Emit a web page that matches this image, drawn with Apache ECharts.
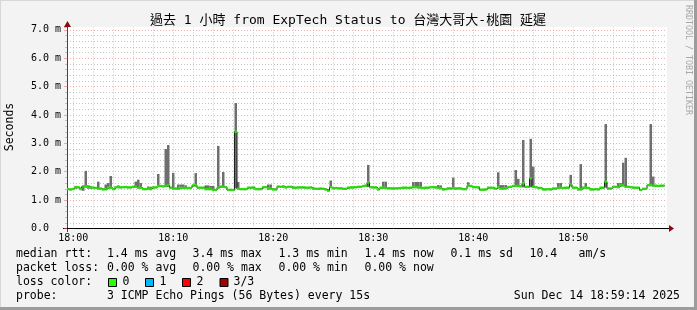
<!DOCTYPE html>
<html><head><meta charset="utf-8">
<script src="https://cdn.jsdelivr.net/npm/echarts@6/dist/echarts.min.js"></script>
<style>html,body{margin:0;padding:0;background:#f3f3f3}#c{width:697px;height:310px}</style>
</head><body><div id="c"></div>
<script>
// ---- data ----
const startTime = '17:59:30';
const stepSeconds = 15;
const pointCount = 240;
const xTickLabels = ['18:00','18:10','18:20','18:30','18:40','18:50'];
const yTickLabels = ['0.0','1.0 m','2.0 m','3.0 m','4.0 m','5.0 m','6.0 m','7.0 m'];

// median rtt (ms)
const median = [
1.39,1.38,1.39,1.46,1.46,1.39,1.49,1.49,1.48,1.44,
1.44,1.43,1.41,1.41,1.38,1.38,1.44,1.44,1.39,1.46,
1.46,1.45,1.46,1.46,1.45,1.45,1.47,1.47,1.44,1.44,
1.39,1.39,1.40,1.39,1.45,1.45,1.50,1.50,1.49,1.50,
1.52,1.44,1.41,1.41,1.40,1.43,1.43,1.43,1.43,1.43,
1.52,1.52,1.44,1.44,1.44,1.39,1.39,1.39,1.36,1.36,
1.44,1.48,1.47,1.46,1.36,1.36,1.36,3.41,1.40,1.39,
1.39,1.39,1.44,1.44,1.44,1.39,1.39,1.39,1.46,1.46,
1.42,1.41,1.38,1.38,1.48,1.47,1.48,1.45,1.47,1.47,
1.44,1.44,1.45,1.45,1.45,1.44,1.44,1.45,1.41,1.40,
1.40,1.41,1.40,1.38,1.33,1.46,1.42,1.43,1.42,1.42,
1.40,1.40,1.44,1.45,1.45,1.46,1.47,1.47,1.50,1.51,
1.62,1.46,1.45,1.45,1.38,1.44,1.44,1.43,1.42,1.42,
1.41,1.42,1.42,1.43,1.44,1.44,1.43,1.44,1.46,1.46,
1.45,1.44,1.43,1.44,1.44,1.46,1.46,1.45,1.43,1.42,
1.38,1.39,1.42,1.41,1.42,1.41,1.42,1.41,1.39,1.39,
1.51,1.50,1.46,1.46,1.45,1.37,1.37,1.38,1.44,1.44,
1.43,1.40,1.46,1.41,1.41,1.42,1.46,1.47,1.50,1.50,
1.50,1.49,1.59,1.47,1.47,1.77,1.47,1.46,1.43,1.43,
1.38,1.38,1.39,1.38,1.41,1.41,1.44,1.44,1.43,1.44,
1.44,1.55,1.44,1.44,1.38,1.38,1.44,1.44,1.43,1.38,
1.38,1.39,1.38,1.44,1.44,1.65,1.41,1.41,1.47,1.47,
1.46,1.52,1.52,1.47,1.47,1.46,1.44,1.44,1.44,1.36,
1.40,1.40,1.53,1.53,1.51,1.51,1.50,1.51,1.51,null
];
// highest ping of each step (ms)
const pingMax = [
1.42,1.41,1.43,1.50,1.49,1.44,1.52,2.03,1.52,1.48,
1.47,1.46,1.65,1.44,1.41,1.55,1.60,1.85,1.42,1.49,
1.52,1.48,1.49,1.50,1.48,1.48,1.50,1.65,1.72,1.60,
1.43,1.42,1.48,1.47,1.48,1.48,1.92,1.53,1.52,2.80,
2.94,1.47,1.96,1.44,1.55,1.55,1.55,1.52,1.46,1.46,
1.55,1.95,1.47,1.47,1.47,1.52,1.52,1.50,1.50,1.39,
2.91,1.51,1.99,1.49,1.39,1.40,1.39,4.42,1.64,1.42,
1.42,1.42,1.47,1.47,1.48,1.42,1.42,1.43,1.49,1.49,
1.55,1.55,1.41,1.41,1.51,1.50,1.52,1.48,1.50,1.50,
1.48,1.47,1.48,1.48,1.48,1.47,1.47,1.48,1.44,1.43,
1.43,1.44,1.43,1.41,1.37,1.69,1.45,1.46,1.45,1.45,
1.43,1.43,1.47,1.48,1.48,1.49,1.50,1.50,1.53,1.54,
2.24,1.49,1.48,1.48,1.41,1.47,1.65,1.65,1.45,1.45,
1.44,1.45,1.45,1.46,1.47,1.47,1.46,1.47,1.64,1.64,
1.64,1.64,1.46,1.47,1.47,1.49,1.49,1.48,1.53,1.52,
1.41,1.42,1.45,1.44,1.79,1.44,1.45,1.44,1.42,1.42,
1.63,1.53,1.49,1.49,1.48,1.40,1.40,1.41,1.47,1.47,
1.46,1.43,1.98,1.53,1.53,1.53,1.49,1.50,1.53,2.06,
1.75,1.52,3.12,1.50,1.50,3.16,2.18,1.49,1.46,1.46,
1.41,1.41,1.42,1.41,1.44,1.44,1.60,1.60,1.46,1.47,
1.47,1.89,1.47,1.47,1.41,2.27,1.47,1.60,1.46,1.41,
1.41,1.42,1.41,1.47,1.47,3.68,1.44,1.44,1.50,1.50,
1.60,1.60,2.32,2.49,1.50,1.49,1.47,1.47,1.47,1.39,
1.43,1.43,1.56,3.68,1.83,1.54,1.53,1.54,1.54,null
];
// lowest ping of each step (ms)
const pingMin = [
1.35,1.34,1.36,1.40,1.41,1.35,1.33,1.44,1.40,1.39,
1.40,1.39,1.37,1.37,1.34,1.35,1.40,1.40,1.35,1.42,
1.42,1.41,1.42,1.42,1.41,1.41,1.43,1.43,1.40,1.40,
1.35,1.35,1.36,1.35,1.41,1.41,1.46,1.46,1.45,1.46,
1.46,1.40,1.37,1.37,1.36,1.39,1.39,1.39,1.39,1.39,
1.47,1.47,1.40,1.40,1.40,1.35,1.35,1.35,1.32,1.32,
1.40,1.44,1.43,1.42,1.32,1.32,1.32,1.41,1.36,1.35,
1.35,1.35,1.40,1.40,1.40,1.35,1.35,1.35,1.42,1.42,
1.36,1.37,1.34,1.34,1.44,1.43,1.44,1.41,1.43,1.43,
1.40,1.40,1.41,1.41,1.41,1.40,1.40,1.41,1.37,1.36,
1.36,1.37,1.36,1.34,1.30,1.42,1.38,1.39,1.38,1.38,
1.36,1.36,1.40,1.41,1.41,1.42,1.43,1.43,1.46,1.47,
1.46,1.42,1.41,1.41,1.34,1.40,1.40,1.39,1.38,1.38,
1.37,1.38,1.38,1.39,1.40,1.40,1.39,1.40,1.42,1.42,
1.41,1.40,1.39,1.40,1.40,1.42,1.42,1.41,1.39,1.38,
1.34,1.35,1.38,1.37,1.38,1.37,1.38,1.37,1.35,1.35,
1.47,1.46,1.42,1.42,1.41,1.33,1.33,1.34,1.40,1.40,
1.39,1.36,1.42,1.37,1.37,1.38,1.42,1.43,1.46,1.46,
1.46,1.45,1.45,1.43,1.43,1.45,1.43,1.42,1.39,1.39,
1.34,1.34,1.35,1.34,1.37,1.37,1.40,1.40,1.39,1.40,
1.40,1.48,1.40,1.40,1.34,1.34,1.40,1.40,1.39,1.34,
1.34,1.35,1.34,1.40,1.40,1.44,1.37,1.37,1.43,1.43,
1.42,1.48,1.48,1.43,1.43,1.42,1.40,1.40,1.40,1.32,
1.36,1.36,1.49,1.49,1.47,1.47,1.46,1.47,1.47,null
];

// ---- derived tables for the library ----
function pad(n){return String(n).padStart(2,'0');}
const categories = [];
{
  const p = startTime.split(':').map(Number);
  let s = p[0]*3600 + p[1]*60 + p[2];
  for (let i = 0; i < pointCount; i++) {
    const t = s + i*stepSeconds;
    categories.push(pad(Math.floor(t/3600)%24)+':'+pad(Math.floor(t/60)%60)+':'+pad(t%60));
  }
}
const smokeSpan = pingMax.map((v,i)=> (v==null||pingMin[i]==null) ? null : +(v - pingMin[i]).toFixed(3));
const isMajorTick = c => c.endsWith(':00') && xTickLabels.includes(c.slice(0,5));
const isMinorTick = c => c.endsWith(':00') && (+c.slice(3,5)) % 2 === 0;
const MAJOR_COLOR = 'rgba(230,110,110,0.55)';
const MINOR_COLOR = 'rgba(150,150,150,0.55)';
const vGrid = categories.filter(isMinorTick).map(c => ({
  xAxis: c,
  lineStyle: {color: isMajorTick(c) ? MAJOR_COLOR : MINOR_COLOR, type: [1,2], width: 1}
}));

const MONO = '"DejaVu Sans Mono", "Noto Sans CJK TC", monospace';
const chart = echarts.init(document.getElementById('c'), null, {renderer: 'canvas'});

function txt(text, x, y, opts) {
  return Object.assign({
    type: 'text', x: x, y: y, silent: true,
    style: Object.assign({text: text, font: '11.5px ' + MONO, fill: '#000', align: 'left', verticalAlign: 'middle'}, (opts||{}))
  });
}
function box(x, y, color) {
  return {type: 'rect', silent: true, shape: {x: x, y: y, width: 8, height: 8}, style: {fill: color, stroke: '#000', lineWidth: 1}};
}

const legendRows = [254.5, 268.3, 282.2, 296];

chart.setOption({
  animation: false,
  backgroundColor: '#f3f3f3',
  grid: {left: 67, right: 30, top: 27, bottom: 81.5, show: true, backgroundColor: '#ffffff', borderWidth: 0, containLabel: false},
  xAxis: {
    type: 'category', data: categories, boundaryGap: true,
    axisLine: {show: true, lineStyle: {color: '#000', width: 1}},
    axisTick: {show: false},
    splitLine: {show: false},
    axisLabel: {
      interval: (i, v) => isMajorTick(v),
      formatter: v => v.slice(0,5),
      color: '#000', fontFamily: MONO, fontSize: 10, margin: 5
    }
  },
  yAxis: {
    type: 'value', min: 0, max: 7.1, interval: 1,
    axisLine: {show: true, lineStyle: {color: '#444', width: 1}},
    axisTick: {show: true, length: 3, lineStyle: {color: MAJOR_COLOR}},
    minorTick: {show: true, splitNumber: 5, length: 2, lineStyle: {color: MINOR_COLOR}},
    splitLine: {show: true, showMaxLine: false, showMinLine: false, lineStyle: {color: MAJOR_COLOR, type: [1,2], width: 1}},
    minorSplitLine: {show: true, lineStyle: {color: MINOR_COLOR, type: [1,2], width: 1}},
    axisLabel: {
      showMaxLabel: false,
      formatter: v => Number.isInteger(v) ? (yTickLabels[v] || '') : '',
      color: '#000', fontFamily: MONO, fontSize: 10, align: 'left', margin: 36
    }
  },
  series: [
    {
      name: 'smokeBase', type: 'bar', stack: 'smoke', data: pingMin,
      barCategoryGap: '0%', itemStyle: {color: 'rgba(0,0,0,0)'}, z: 1, silent: true,
      markLine: {silent: true, symbol: ['none','none'], label: {show: false}, data: vGrid, animation: false}
    },
    {
      name: 'smoke', type: 'bar', stack: 'smoke', data: smokeSpan,
      barCategoryGap: '0%', itemStyle: {color: '#6e6e6e', borderWidth: 0}, z: 2, silent: true
    },
    {
      name: 'medianEdge', type: 'line', step: 'middle', data: median, symbol: 'none',
      connectNulls: false, lineStyle: {color: '#202020', width: 1}, z: 3, silent: true
    },
    {
      name: 'median', type: 'scatter', data: median, symbol: 'rect', symbolSize: [2.6, 2.4],
      itemStyle: {color: '#26ff00'}, z: 4, silent: true
    }
  ],
  graphic: [
    // frame
    {type: 'line', silent: true, shape: {x1: 0, y1: 0.5, x2: 697, y2: 0.5}, style: {stroke: '#d8d8d8', lineWidth: 1}},
    {type: 'line', silent: true, shape: {x1: 0.5, y1: 0, x2: 0.5, y2: 310}, style: {stroke: '#d8d8d8', lineWidth: 1}},
    {type: 'line', silent: true, shape: {x1: 0, y1: 308.5, x2: 697, y2: 308.5}, style: {stroke: '#9c9c9c', lineWidth: 3}},
    {type: 'line', silent: true, shape: {x1: 695.5, y1: 0, x2: 695.5, y2: 310}, style: {stroke: '#9c9c9c', lineWidth: 3}},
    // axis extensions and arrows
    {type: 'line', silent: true, shape: {x1: 63, y1: 228.5, x2: 67, y2: 228.5}, style: {stroke: '#000', lineWidth: 1}},
    {type: 'line', silent: true, shape: {x1: 67.5, y1: 228, x2: 67.5, y2: 232}, style: {stroke: '#444', lineWidth: 1}},
    {type: 'line', silent: true, shape: {x1: 667, y1: 228.5, x2: 669, y2: 228.5}, style: {stroke: '#000', lineWidth: 1}},
    {type: 'polygon', silent: true, shape: {points: [[669,225],[669,232],[674,228.5]]}, style: {fill: '#8b0a0a'}},
    {type: 'polygon', silent: true, shape: {points: [[64,27],[71,27],[67.5,21]]}, style: {fill: '#8b0a0a'}},
    // title and axis titles
    txt('過去 1 小時 from ExpTech Status to 台灣大哥大-桃園 延遲', 348, 21, {font: '13px ' + MONO, align: 'center'}),
    Object.assign(txt('Seconds', 10, 127, {align: 'center'}), {rotation: Math.PI/2}),
    Object.assign(txt('RRDTOOL / TOBI OETIKER', 688, 60, {font: '8.3px ' + MONO, fill: '#a8a8a8', align: 'center'}), {rotation: -Math.PI/2}),
    // legend rows
    txt('median rtt:', 16, legendRows[0]),
    txt('1.4 ms avg', 107, legendRows[0]),
    txt('3.4 ms max', 192.5, legendRows[0]),
    txt('1.3 ms min', 278.5, legendRows[0]),
    txt('1.4 ms now', 364.5, legendRows[0]),
    txt('0.1 ms sd', 450.5, legendRows[0]),
    txt('10.4', 529.5, legendRows[0]),
    txt('am/s', 578.5, legendRows[0]),
    txt('packet loss:', 16, legendRows[1]),
    txt('0.00 % avg', 107, legendRows[1]),
    txt('0.00 % max', 192.5, legendRows[1]),
    txt('0.00 % min', 278.5, legendRows[1]),
    txt('0.00 % now', 364.5, legendRows[1]),
    txt('loss color:', 16, legendRows[2]),
    box(108.5, 278.5, '#26ff00'), txt('0', 122.5, legendRows[2]),
    box(145.5, 278.5, '#00b8ff'), txt('1', 159.5, legendRows[2]),
    box(182.5, 278.5, '#ff0000'), txt('2', 196.5, legendRows[2]),
    box(220, 278.5, '#a10000'), txt('3/3', 233.5, legendRows[2]),
    txt('probe:', 16, legendRows[3]),
    txt('3 ICMP Echo Pings (56 Bytes) every 15s', 107, legendRows[3]),
    txt('Sun Dec 14 18:59:14 2025', 680, legendRows[3], {align: 'right'})
  ]
});
</script>
</body></html>
